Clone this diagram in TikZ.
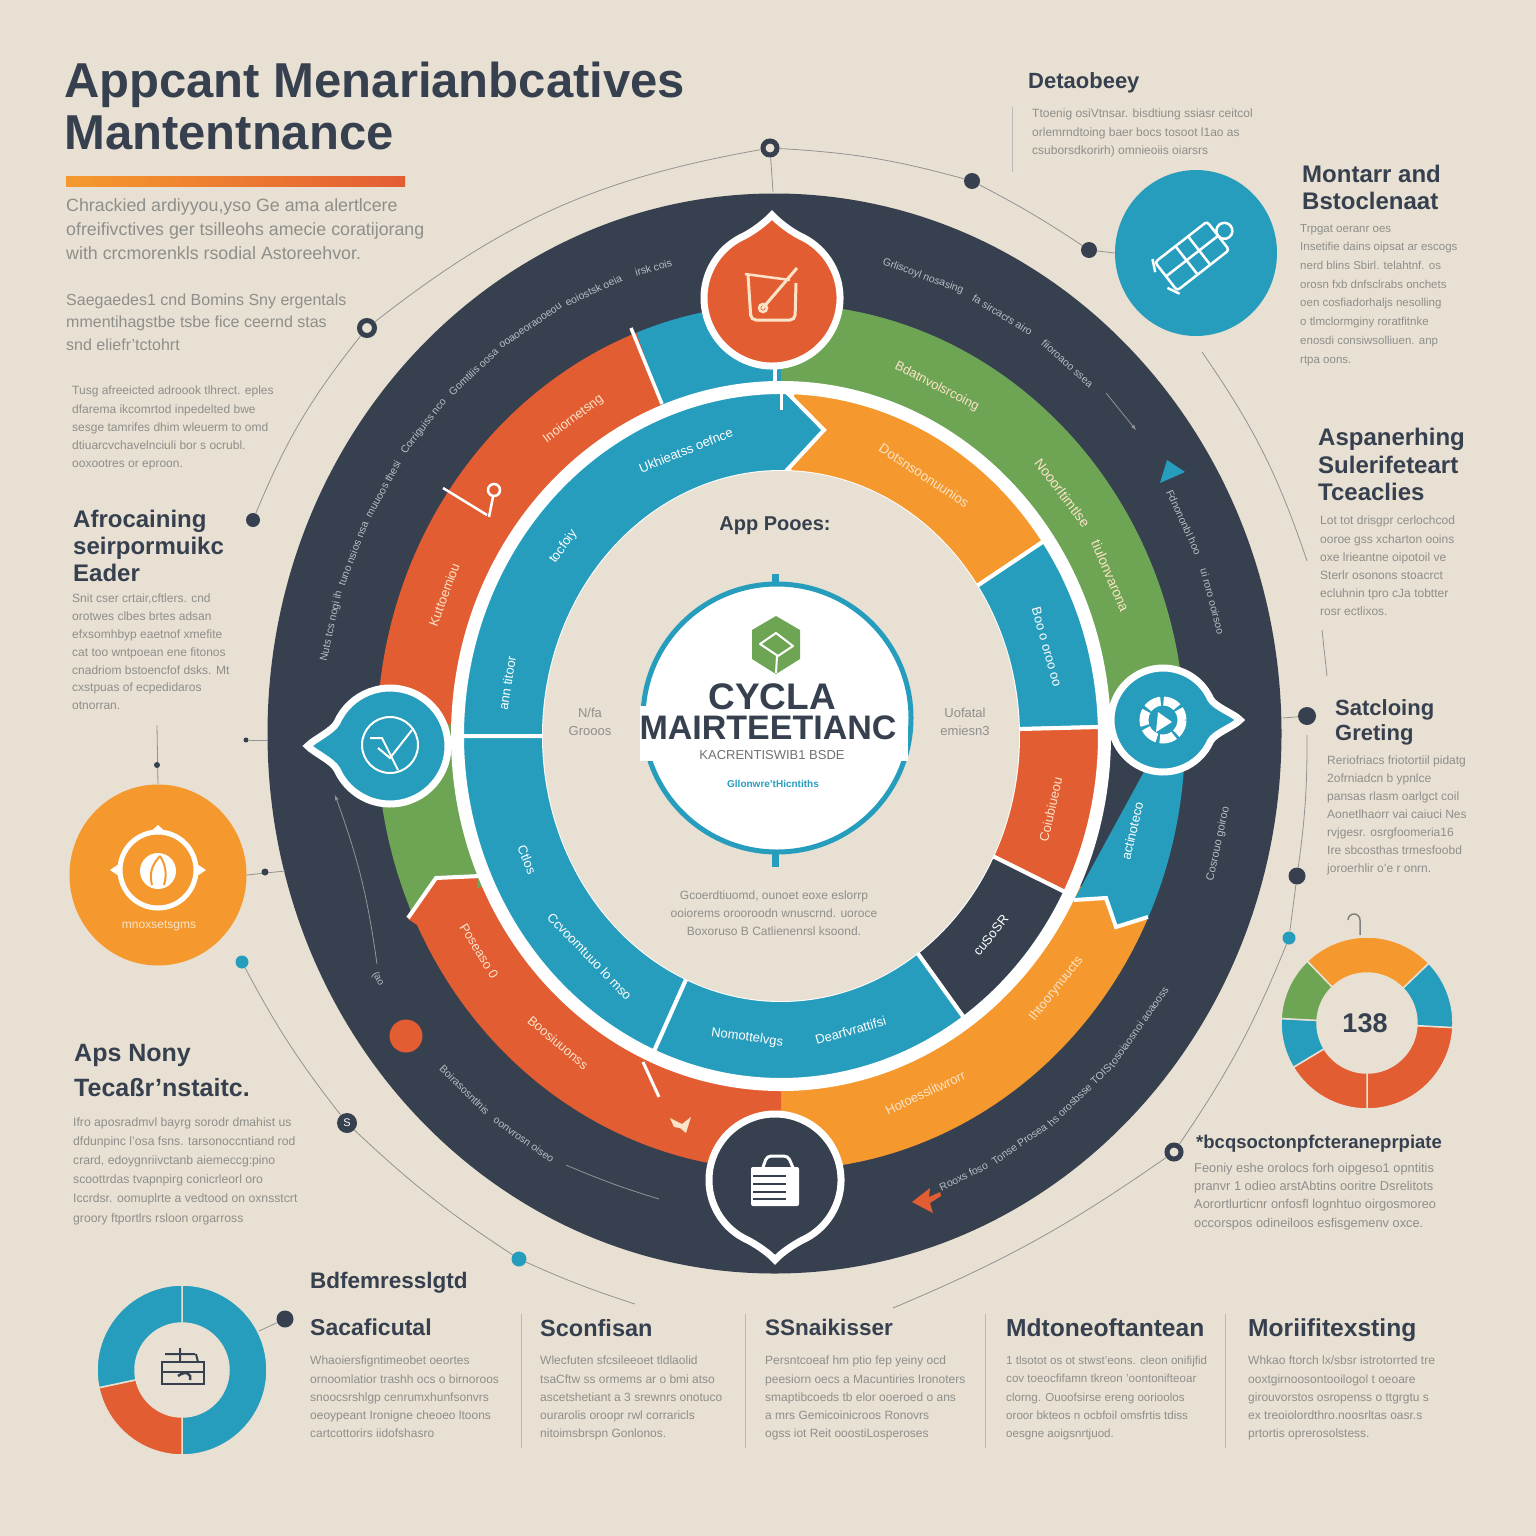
\documentclass[tikz,border=0pt]{standalone}
\usepackage{fontspec}
\setmainfont{Liberation Sans}
\usetikzlibrary{shapes.geometric}

\definecolor{paper}{HTML}{E8E0D2}
\definecolor{slate}{HTML}{36404F}
\definecolor{teal}{HTML}{279DBD}
\definecolor{rust}{HTML}{E35D33}
\definecolor{amber}{HTML}{F5992E}
\definecolor{leaf}{HTML}{6EA554}
\definecolor{bodygray}{HTML}{8E8E8B}
\definecolor{ringgray}{HTML}{B9BDC2}
\definecolor{cream}{HTML}{FBE3C8}

\newcommand{\outerseg}[3]{%
    \fill[#3] ([shift={(781,737)}]#1:404 and 433) arc[start angle=#1,end angle=#2,x radius=404,y radius=433]
        -- ([shift={(781,737)}]#2:325 and 348) arc[start angle=#2,end angle=#1,x radius=325,y radius=348] -- cycle;}
\newcommand{\innerseg}[3]{%
    \filldraw[fill=#3,draw=white,line width=4] ([shift={(781,736)}]#1:319 and 344) arc[start angle=#1,end angle=#2,x radius=319,y radius=344]
        -- ([shift={(781,736)}]#2:237 and 264) arc[start angle=#2,end angle=#1,x radius=237,y radius=264] -- cycle;}
\newcommand{\ringnode}[8]{%
    \pgfmathsetmacro{\ringrot}{0-atan2(#4*cos(#5),0-#3*sin(#5))+(#5>0)*180}
    \node[inner sep=0pt,rotate=\ringrot,text=#7,font=\fontsize{#6}{#6}\selectfont] (#1) at ([shift={(#2)}]#5:#3 and #4) {#8};}
\newcommand{\teardrop}[6]{%
    \begin{scope}[shift={(#1,#2)},rotate=#4]
        \filldraw[fill=#6,draw=white,line width=7] (24:#3) arc[start angle=24,end angle=336,radius=#3]
            .. controls (-14:{1.03*#3}) and (-5:{(#5-0.1)*#3}) .. (0:{#5*#3})
            .. controls (5:{(#5-0.1)*#3}) and (14:{1.03*#3}) .. cycle;
    \end{scope}}
\newcommand{\donutseg}[6]{%
    \filldraw[fill=#6,draw=paper,line width=1.5] ([shift={(#1)}]#4:#2) arc[start angle=#4,end angle=#5,radius=#2]
        -- ([shift={(#1)}]#5:#3) arc[start angle=#5,end angle=#4,radius=#3] -- cycle;}

\begin{document}
\begin{tikzpicture}[x=1pt,y=-1pt,
    bodytext/.style={anchor=north west,align=left,inner sep=0pt,text=bodygray,font=\fontsize{12}{18.2}\selectfont},
    headtext/.style={anchor=north west,align=left,inner sep=0pt,text=slate,font=\fontsize{24}{27}\selectfont\bfseries},
    dot/.style={circle,fill=slate,inner sep=0pt,minimum size=#1},
    tealdot/.style={circle,fill=teal,inner sep=0pt,minimum size=13},
    ringdot/.style={circle,fill=paper,draw=slate,line width=5,inner sep=0pt,minimum size=#1},
    wire/.style={draw=gray!85,line width=0.8},
    rule/.style={draw=gray!55,line width=1}]

    \fill[paper] (0,0) rectangle (1536,1536);
    \useasboundingbox (0,0) rectangle (1536,1536);

    % main dial
    \fill[slate] (774.5,733.5) ellipse [x radius=507,y radius=540];

    \outerseg{-111}{-85}{teal}
    \outerseg{-90}{0}{leaf}
    \outerseg{25}{90}{amber}
    \outerseg{90}{157}{rust}
    \outerseg{155}{185}{leaf}
    \outerseg{-178}{-111}{rust}
    \fill[teal] ([shift={(781,737)}]-5:404 and 433) arc[start angle=-5,end angle=24.5,x radius=404,y radius=433]
        -- (1116,927) -- (1106,898) -- (1074,900) -- cycle;
    \draw[white,line width=4,line join=miter] (1148,917) -- (1116,927) -- (1106,898) -- (1074,900);
    \fill[rust] (408,919) -- (436,878) -- (478,878) -- (470,960) -- cycle;
    \draw[white,line width=4] (408,918) -- (436,878) -- (480,876);
    \draw[white,line width=3.5] (631,328) -- (662,404);
    \draw[white,line width=2.5] (443,488) -- (487,515);
    \draw[white,line width=2.5] (489,517) -- (493,497);
    \draw[white,line width=2.5] (494,490) circle [radius=6];
    \draw[white,line width=3] (643,1062) -- (659,1097);
    \fill[cream] (670,1118) -- (682,1124) -- (691,1117) -- (686,1133) -- (680,1128) -- (674,1127) -- cycle;

    \fill[white] (781,736) ellipse [x radius=330,y radius=355];

    \innerseg{-88}{-34.5}{amber}
    \filldraw[fill=teal,draw=white,line width=4] ([shift={(781,736)}]-180:319 and 344) arc[start angle=-180,end angle=-89,x radius=319,y radius=344]
        -- (824,430) -- ([shift={(781,736)}]-89:237 and 264) arc[start angle=-89,end angle=-180,x radius=237,y radius=264] -- cycle;
    \innerseg{-34.5}{-1.5}{teal}
    \innerseg{-1.5}{27}{rust}
    \innerseg{27}{55}{slate}
    \innerseg{55}{113.5}{teal}
    \innerseg{113.5}{180}{teal}
    \fill[paper] (781,736) ellipse [x radius=238,y radius=265];

    % labels on the dark ring
    \ringnode{darkA}{775,735}{455}{485}{-167}{10.5}{ringgray}{Nuts tcs nogi ih}
    \ringnode{darkB}{775,735}{455}{485}{-158}{10.5}{ringgray}{tuno nsios nsa}
    \ringnode{darkC}{775,735}{455}{485}{-149.5}{10.5}{ringgray}{muuoos thesi}
    \ringnode{darkD}{775,735}{455}{485}{-140.5}{10.5}{ringgray}{Corriguiss nco}
    \ringnode{darkE}{775,735}{455}{485}{-131.5}{10.5}{ringgray}{Gomtilis oosa}
    \ringnode{darkF}{775,735}{455}{485}{-122.5}{10.5}{ringgray}{ooaoeoraooeou}
    \ringnode{darkG}{775,735}{455}{485}{-113.5}{10.5}{ringgray}{eoiostsk oeia}
    \ringnode{darkH}{775,735}{455}{485}{-105.5}{10.5}{ringgray}{irsk cois}
    \ringnode{darkI}{775,735}{455}{485}{-71}{10.5}{ringgray}{Grliscoyl nosasing}
    \ringnode{darkJ}{775,735}{455}{485}{-60}{10.5}{ringgray}{fa sircacrs airo}
    \ringnode{darkK}{775,735}{455}{485}{-50}{10.5}{ringgray}{fiioroaoo ssea}
    \ringnode{darkL}{775,735}{455}{485}{-26}{10.5}{ringgray}{Fdnononbl hoo}
    \ringnode{darkM}{775,735}{455}{485}{-16}{10.5}{ringgray}{ui roro ooirsoo}
    \ringnode{darkN}{775,735}{455}{485}{13}{11}{ringgray}{Cosrouo goiroo}
    \ringnode{darkO}{775,735}{455}{485}{65.5}{10.5}{ringgray}{Rooxs foso}
    \ringnode{darkP}{775,735}{455}{485}{57.5}{10.5}{ringgray}{Tonse Prosea}
    \ringnode{darkQ}{775,735}{455}{485}{48}{10.5}{ringgray}{hs orosbsse TOIS}
    \ringnode{darkR}{775,735}{455}{485}{37}{10.5}{ringgray}{tosoiaosnoi aoaooss}
    \ringnode{darkS}{775,735}{455}{485}{133}{10.5}{ringgray}{Boirasosntlnis}
    \ringnode{darkT}{775,735}{455}{485}{123.5}{10.5}{ringgray}{oonvrosn oiseo}

    % labels on the coloured ring
    \ringnode{outerA}{781,737}{362}{388}{-64.5}{13}{cream}{Bdatnvolsrcoing}
    \ringnode{outerB}{781,737}{362}{388}{-39}{14}{cream}{Nooorltimtlse}
    \ringnode{outerC}{781,737}{362}{388}{-24.5}{14}{cream}{tiulonvarona}
    \ringnode{outerD}{781,737}{362}{388}{-125}{13}{cream}{Inoiornetsng}
    \ringnode{outerE}{781,737}{362}{388}{-158.5}{13}{cream}{Kuttoemiou}
    \ringnode{outerF}{781,737}{362}{388}{14}{13}{white}{actinoteco}
    \ringnode{outerG}{781,737}{362}{388}{40.5}{13}{cream}{Ihtoorynuucts}
    \ringnode{outerH}{781,737}{362}{388}{66.5}{13}{cream}{Hotoesslitwrorr}
    \ringnode{outerI}{781,737}{362}{388}{146.5}{13}{cream}{Poseaso 0}
    \ringnode{outerJ}{781,737}{362}{388}{128}{13}{cream}{Boosiuuonss}

    % labels on the inner ring
    \ringnode{innerA}{781,736}{278}{304}{-110}{13}{white}{Ukhieatss oefnce}
    \ringnode{innerB}{781,736}{278}{304}{-141.5}{13}{white}{tocfoiy}
    \ringnode{innerC}{781,736}{278}{304}{-170}{13}{white}{ann titoor}
    \ringnode{innerD}{781,736}{278}{304}{-59}{13.5}{cream}{Dotsnsoonuunios}
    \ringnode{innerE}{781,736}{278}{304}{-17}{13}{white}{Boo o oroo oo}
    \ringnode{innerF}{781,736}{278}{304}{14}{13}{cream}{Coiubiueou}
    \ringnode{innerG}{781,736}{278}{304}{41}{13}{white}{cuSoSR}
    \ringnode{innerH}{781,736}{278}{304}{97}{13}{white}{Nomottelvgs}
    \ringnode{innerI}{781,736}{278}{304}{75.5}{13}{white}{Dearfvrattifsi}
    \ringnode{innerJ}{781,736}{278}{304}{156}{13}{white}{Ctlos}
    \ringnode{innerK}{781,736}{278}{304}{133.5}{13}{white}{Ccvoomtuuo lo mso}

    % arrows inside the dark ring
    \coordinate (arrowAa) at (1106,393);
    \coordinate (arrowAb) at (1136,430);
    \draw[wire,-latex] (arrowAa) -- (arrowAb);
    \coordinate (arrowBa) at (377,964);
    \coordinate (arrowBb) at (335,795);
    \draw[wire,-latex] (arrowBa) to[bend right=6] (arrowBb);
    \coordinate (arrowCa) at (566,1165);
    \coordinate (arrowCb) at (659,1199);
    \draw[wire] (arrowCa) to[bend right=3] (arrowCb);
    \fill[teal] (1167,460) -- (1185,472) -- (1160,483) -- cycle;
    \fill[rust] (912,1202) -- (930,1188) -- (929,1197) -- (940,1192) -- (941,1196) -- (930,1203) -- (933,1213) -- cycle;
    \fill[rust] (406,1036) circle [radius=16.5];
    \node[inner sep=0pt,text=ringgray,font=\fontsize{10}{10}\selectfont,rotate=-60] (ringnote) at (378,979) {(ao};

    % pointer circles
    \teardrop{772}{298}{68}{90}{1.22}{rust}
    \teardrop{775}{1180}{66}{-90}{1.21}{slate}
    \teardrop{390}{746}{58}{180}{1.42}{teal}
    \teardrop{1163}{720}{52}{0}{1.48}{teal}
    \draw[white,line width=4] (775,368) -- (775,388);
    \draw[white,line width=3] (781,392) -- (781,410);

    % icon in the top circle
    \draw[cream,line width=3,rounded corners=5] (748,275) -- (751,320) -- (795,320) -- (796,283);
    \draw[cream,line width=2.5] (745,274) -- (790,280);
    \draw[cream,line width=3] (762,309) -- (797,268);
    \draw[cream,line width=2.5] (763,308) circle [radius=4];
    % icon in the left circle
    \draw[white,line width=2] (390,745) circle [radius=28];
    \draw[white,line width=2] (370,738) -- (382,738) -- (398,770);
    \draw[white,line width=2] (412,730) -- (390,758) -- (378,748);
    % icon in the right circle
    \draw[white,line width=9,dash pattern=on 15pt off 3pt] (1163,720) circle [radius=19];
    \fill[white] (1158,712) -- (1172,722) -- (1156,732) -- cycle;
    % icon in the bottom circle
    \draw[white,line width=3,rounded corners=4] (762,1170) -- (767,1156) -- (788,1156) -- (794,1170);
    \fill[white,rounded corners=2] (751,1167) rectangle (799,1206);
    \foreach \liney in {1176,1184,1192,1199}
        \draw[slate,line width=2.5] (753,\liney) -- (786,\liney);

    % centre badge
    \fill[white] (777,718) circle [radius=133];
    \draw[teal,line width=5] (777,718) circle [radius=134];
    \fill[white] (640,706) rectangle (908,761);
    \fill[teal] (772,574) rectangle (779,585);
    \fill[teal] (772,852) rectangle (779,867);
    \fill[leaf] (776,616) -- (800,630) -- (800,659) -- (776,674) -- (752,659) -- (752,630) -- cycle;
    \draw[white,line width=2,line join=round] (776,633) -- (793,646) -- (778,656) -- (760,644) -- cycle;
    \draw[white,line width=2] (777,656) -- (776,673);
    \node[inner sep=0pt,text=slate,font=\fontsize{37}{37}\selectfont\bfseries] (badgeA) at (772,697) {CYCLA};
    \node[inner sep=0pt,text=slate,font=\fontsize{34}{34}\selectfont\bfseries] (badgeB) at (768,728) {MAIRTEETIANC};
    \node[inner sep=0pt,text=bodygray!80!black,font=\fontsize{13}{13}\selectfont] (badgeC) at (772,755) {KACRENTISWIB1 BSDE};
    \node[inner sep=0pt,text=teal,font=\fontsize{10}{10}\selectfont\bfseries] (badgeD) at (773,784) {Gllonwre'tHicntiths};

    \node[inner sep=0pt,text=slate,font=\fontsize{20}{20}\selectfont\bfseries] (corehead) at (775,526) {App Pooes:};
    \node[align=center,inner sep=0pt,text=bodygray,font=\fontsize{13}{18}\selectfont] (coreleft) at (590,722) {N/fa\\Grooos};
    \node[align=center,inner sep=0pt,text=bodygray,font=\fontsize{13}{18}\selectfont] (coreright) at (965,722) {Uofatal\\emiesn3};
    \node[align=center,inner sep=0pt,text=bodygray,font=\fontsize{12}{18}\selectfont] (corenote) at (774,913) {Gcoerdtiuomd, ounoet eoxe eslorrp\\ooiorems orooroodn wnuscrnd. uoroce\\Boxoruso B Catlienenrsl ksoond.};

    % title block
    \node[headtext,font=\fontsize{49}{52}\selectfont\bfseries,text=slate] (title) at (64,62) {Appcant Menarianbcatives\\Mantentnance};
    \shade[left color=amber,right color=rust] (66,176) rectangle (405,186);
    \node[bodytext,font=\fontsize{17.8}{24}\selectfont] (intro) at (66,198.5) {Chrackied ardiyyou,yso Ge ama alertlcere\\ofreifivctives ger tsilleohs amecie coratijorang\\with crcmorenkls rsodial Astoreehvor.};
    \node[bodytext,font=\fontsize{16}{22.5}\selectfont] (introtwo) at (66,293.5) {Saegaedes1 cnd Bomins Sny ergentals\\mmentihagstbe tsbe fice ceernd stas\\snd eliefr'tctohrt};
    \node[bodytext] (introthree) at (72,386) {Tusg afreeicted adroook tlhrect. eples\\dfarema ikcomrtod inpedelted bwe\\sesge tamrifes dhim wleuerm to omd\\dtiuarcvchavelnciuli bor s ocrubl.\\ooxootres or eproon.};

    \node[headtext] (leadhead) at (73,510) {Afrocaining\\seirpormuikc\\Eader};
    \node[bodytext,font=\fontsize{12}{17.8}\selectfont] (leadbody) at (72,594) {Snit cser crtair,cftlers. cnd\\orotwes clbes brtes adsan\\efxsomhbyp eaetnof xmefite\\cat too wntpoean ene fitonos\\cnadriom bstoencfof dsks. Mt\\cxstpuas of ecpedidaros\\otnorran.};

    % orange disc
    \node[ellipse,fill=amber,minimum width=177,minimum height=181,inner sep=0pt] (amberdisc) at (158,875) {};
    \draw[white,line width=5] (158,870) circle [radius=38];
    \fill[white] (158,825) -- (168,834) -- (148,834) -- cycle;
    \fill[white] (110,870) -- (122,862) -- (122,878) -- cycle;
    \fill[white] (206,870) -- (194,862) -- (194,878) -- cycle;
    \fill[white] (158,871) circle [radius=18];
    \draw[amber,line width=2] (152,885) .. controls (148,870) and (155,862) .. (160,856);
    \draw[amber,line width=2] (164,885) .. controls (168,872) and (164,862) .. (160,856);
    \node[inner sep=0pt,text=cream,font=\fontsize{12}{12}\selectfont] (discnote) at (159,926) {mnoxsetsgms};

    \coordinate (discstem) at (157,725);
    \draw[wire] (discstem) -- (amberdisc.north);
    \node[dot=6] (discstemdot) at (157,765) {};
    \coordinate (discarm) at (285,871);
    \draw[wire] (amberdisc.east) -- (discarm);
    \node[dot=7] (discarmdot) at (265,872) {};
    \coordinate (leftstub) at (268,740);
    \node[dot=5] (leftstubdot) at (246,740) {};
    \draw[wire] (leftstubdot) -- (leftstub);

    % teal disc
    \node[ellipse,fill=teal,minimum width=162,minimum height=166,inner sep=0pt] (tealdisc) at (1196,253) {};
    \begin{scope}[shift={(1196,253)},rotate=38]
        \draw[white,line width=2.5,rounded corners=3] (-38,-18) rectangle (28,18);
        \draw[white,line width=2.5] (-12,-18) -- (-12,18) (4,-18) -- (4,18) (-38,0) -- (28,0);
        \draw[white,line width=2.5] (36,0) circle [radius=8];
        \draw[white,line width=2.5] (-44,-10) -- (-38,-22) (-44,10) -- (-38,22);
    \end{scope}

    % thin connectors
    \node[ringdot=14] (topdot) at (770,148) {};
    \node[ringdot=15] (ulefta) at (367,328) {};
    \node[dot=14] (uleftb) at (253,520) {};
    \node[dot=16] (urighta) at (972,181) {};
    \node[dot=16] (urightb) at (1089,250) {};
    \coordinate (urightc) at (1202,352);
    \coordinate (urightd) at (1307,561);
    \coordinate (urighte) at (1322,630);
    \coordinate (urightf) at (1327,676);
    \node[dot=18] (gearpin) at (1307,716) {};
    \coordinate (gearpina) at (1283,718);
    \coordinate (gearpinb) at (1307,735);
    \node[dot=17] (lrighta) at (1297,876) {};
    \node[tealdot] (lrightb) at (1289,938) {};
    \node[ringdot=14] (lrightc) at (1174,1152) {};
    \coordinate (lrightd) at (893,1308);
    \node[tealdot] (llefta) at (242,962) {};
    \node[dot=20,text=white,font=\fontsize{11}{11}\selectfont] (lleftb) at (347,1123) {S};
    \node[tealdot,minimum size=15] (lleftc) at (519,1259) {};
    \coordinate (lleftd) at (635,1304);

    \draw[wire] (topdot) to[bend right=14] (ulefta);
    \draw[wire] (ulefta) to[bend right=8] (uleftb);
    \draw[wire] (topdot) to[bend left=6] (urighta);
    \draw[wire] (urighta) to[bend left=3] (urightb);
    \draw[wire] (urightb) -- (tealdisc.west);
    \draw[wire] (topdot) -- ++(3,44);
    \draw[wire] (urightc) to[bend left=8] (urightd);
    \draw[wire] (urighte) -- (urightf);
    \draw[wire] (gearpin) -- (gearpina);
    \draw[wire] (gearpinb) to[bend left=4] (lrighta);
    \draw[wire] (lrighta) -- (lrightb);
    \draw[wire] (lrightb) to[bend left=6] (lrightc);
    \draw[wire] (lrightc) to[bend left=6] (lrightd);
    \draw[wire] (llefta) to[bend right=5] (lleftb);
    \draw[wire] (lleftb) to[bend right=5] (lleftc);
    \draw[wire] (lleftc) to[bend right=3] (lleftd);

    % right hand column
    \node[headtext,font=\fontsize{22}{22}\selectfont\bfseries] (dephead) at (1028,72) {Detaobeey};
    \node[bodytext] (depbody) at (1032,109) {Ttoenig osiVtnsar. bisdtiung ssiasr ceitcol\\orlemrndtoing baer bocs tosoot l1ao as\\csuborsdkorirh) omnieoiis oiarsrs};
    \draw[rule] (1012,107) -- (1012,172);

    \node[headtext] (monhead) at (1302,165) {Montarr and\\Bstoclenaat};
    \node[bodytext,font=\fontsize{11.5}{18.7}\selectfont] (monbody) at (1300,224) {Trpgat oeranr oes\\Insetifie dains oipsat ar escogs\\nerd blins Sbirl. telahtnf. os\\orosn fxb dnfsclrabs onchets\\oen cosfiadorhaljs nesolling\\o tlmclormginy roratfitnke\\enosdi consiwsolliuen. anp\\rtpa oons.};

    \node[headtext,font=\fontsize{24}{27.5}\selectfont\bfseries] (asphead) at (1318,428) {Aspanerhing\\Sulerifeteart\\Tceaclies};
    \node[bodytext] (aspbody) at (1320,516) {Lot tot drisgpr cerlochcod\\ooroe gss xcharton ooins\\oxe lrieantne oipotoil ve\\Sterlr osonons stoacrct\\ecluhnin tpro cJa tobtter\\rosr ectlixos.};

    \node[headtext,font=\fontsize{22}{25}\selectfont\bfseries] (sathead) at (1335,699) {Satcloing\\Greting};
    \node[bodytext,font=\fontsize{12}{18}\selectfont] (satbody) at (1327,756) {Reriofriacs friotortiil pidatg\\2ofrniadcn b ypnlce\\pansas rlasm oarlgct coil\\Aonetlhaorr vai caiuci Nes\\rvjgesr. osrgfoomeria16\\Ire sbcosthas trmesfoobd\\joroerhlir o'e r onrn.};

    % right donut
    \donutseg{1367,1023}{86}{50}{3}{90}{rust}
    \donutseg{1367,1023}{86}{50}{90}{149}{rust}
    \donutseg{1367,1023}{86}{50}{149}{183}{teal}
    \donutseg{1367,1023}{86}{50}{183}{226}{leaf}
    \donutseg{1367,1023}{86}{50}{226}{316}{amber}
    \donutseg{1367,1023}{86}{50}{316}{363}{teal}
    \node[inner sep=0pt,text=slate,font=\fontsize{27}{27}\selectfont\bfseries] (donutnum) at (1365,1023) {138};
    \draw[gray,line width=1.5] (1360,935) -- (1360,920) arc[start angle=0,end angle=-180,radius=6];

    \node[headtext,font=\fontsize{18.5}{18.5}\selectfont\bfseries] (costhead) at (1196,1135) {*bcqsoctonpfcteraneprpiate};
    \node[bodytext,font=\fontsize{12.8}{18.2}\selectfont] (costbody) at (1194,1163) {Feoniy eshe orolocs forh oipgeso1 opntitis\\pranvr 1 odieo arstAbtins ooritre Dsrelitots\\Aorortlurticnr onfosfl lognhtuo oirgosmoreo\\occorspos odineiloos esfisgemenv oxce.};

    % lower left
    \node[headtext,font=\fontsize{25}{35}\selectfont\bfseries] (appshead) at (74,1044) {Aps Nony\\Tecaßr'nstaitc.};
    \node[bodytext,font=\fontsize{12.2}{19.2}\selectfont] (appsbody) at (73,1117) {Ifro aposradmvl bayrg sorodr dmahist us\\dfdunpinc l'osa fsns. tarsonoccntiand rod\\crard, edoygnriivctanb aiemeccg:pino\\scoottrdas tvapnpirg conicrleorl oro\\Iccrdsr. oomuplrte a vedtood on oxnsstcrt\\groory ftportlrs rsloon orgarross};

    % left donut
    \donutseg{182,1370}{85}{47}{-90}{90}{teal}
    \donutseg{182,1370}{85}{47}{90}{168}{rust}
    \donutseg{182,1370}{85}{47}{168}{270}{teal}
    \draw[slate,line width=2] (162,1372) rectangle (204,1384) (162,1372) -- (162,1362) -- (204,1362) -- (204,1372);
    \draw[slate,line width=2] (165,1354) -- (195,1354) (180,1348) -- (180,1362) (196,1354) -- (198,1362);
    \draw[slate,line width=2.5] (178,1376) .. controls (186,1370) and (192,1374) .. (190,1380);
    \node[dot=17] (donutpin) at (285,1319) {};
    \draw[wire] (donutpin) -- (259,1331);

    % bottom columns
    \node[headtext,font=\fontsize{22.5}{22.5}\selectfont\bfseries] (bottomhead) at (310,1272) {Bdfemresslgtd};
    \node[headtext,font=\fontsize{23}{23}\selectfont\bfseries] (colonehead) at (310,1319) {Sacaficutal};
    \node[bodytext] (colonebody) at (310,1356) {Whaoiersfigntimeobet oeortes\\ornoomlatior trashh ocs o birnoroos\\snoocsrshlgp cenrumxhunfsonvrs\\oeoypeant Ironigne cheoeo ltoons\\cartcottorirs iidofshasro};
    \node[headtext,font=\fontsize{23.5}{23.5}\selectfont\bfseries] (coltwohead) at (540,1319) {Sconfisan};
    \node[bodytext] (coltwobody) at (540,1356) {Wlecfuten sfcsileeoet tldlaolid\\tsaCftw ss ormems ar o bmi atso\\ascetshetiant a 3 srewnrs onotuco\\ourarolis oroopr rwl corraricls\\nitoimsbrspn Gonlonos.};
    \node[headtext,font=\fontsize{22.5}{22.5}\selectfont\bfseries] (colthreehead) at (765,1319) {SSnaikisser};
    \node[bodytext] (colthreebody) at (765,1356) {Persntcoeaf hm ptio fep yeiny ocd\\peesiorn oecs a Macuntiries Ironoters\\smaptibcoeds tb elor ooeroed o ans\\a mrs Gemicoinicroos Ronovrs\\ogss iot Reit ooostiLosperoses};
    \node[headtext,font=\fontsize{24.6}{24.6}\selectfont\bfseries] (colfourhead) at (1006,1318) {Mdtoneoftantean};
    \node[bodytext,font=\fontsize{11.6}{18.2}\selectfont] (colfourbody) at (1006,1356) {1 tlsotot os ot stwst'eons. cleon onifijfid\\cov toeocfifamn tkreon 'oontonifteoar\\clorng. Ouoofsirse ereng oorioolos\\oroor bkteos n ocbfoil omsfrtis tdiss\\oesgne aoigsnrtjuod.};
    \node[headtext,font=\fontsize{24.6}{24.6}\selectfont\bfseries] (colfivehead) at (1248,1318) {Moriifitexsting};
    \node[bodytext] (colfivebody) at (1248,1356) {Whkao ftorch lx/sbsr istrotorrted tre\\ooxtgirnoosontooilogol t oeoare\\girouvorstos osropenss o ttgrgtu s\\ex treoiolordthro.noosrltas oasr.s\\prtortis oprerosolstess.};
    \foreach \rulex in {521,745,985,1225}
        \draw[rule] (\rulex,1314) -- (\rulex,1448);
\end{tikzpicture}
\end{document}
